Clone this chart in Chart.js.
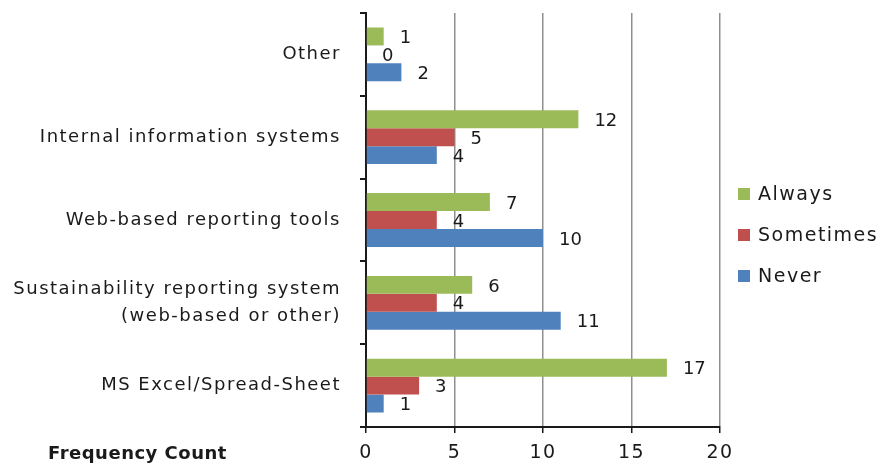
<!DOCTYPE html>
<html lang="en">
<head>
<meta charset="UTF-8">
<title>Frequency Count</title>
<script src="https://cdn.jsdelivr.net/npm/chart.js@4.4.0/dist/chart.umd.min.js"></script>
<style>
  html, body { margin: 0; padding: 0; background: #fff; }
</style>
</head>
<body>
<canvas id="chart" width="881" height="464"></canvas>
<script>
// data
const categories = ['Other', 'Internal information systems', 'Web-based reporting tools',
  ['Sustainability reporting system', '(web-based or other)'], 'MS Excel/Spread-Sheet'];
const seriesNames = ['Always', 'Sometimes', 'Never'];
const always = [1, 12, 7, 6, 17];
const sometimes = [0, 5, 4, 4, 3];
const never = [2, 4, 10, 11, 1];
const xMax = 20;
const xStep = 5;
const axisTitle = 'Frequency Count';

const colors = ['#9bbb59', '#c0504d', '#4f81bd'];
const ink = '#1a1a1a';

// wide letter spacing like the original picture
const spacing = {
  id: 'spacing',
  beforeDraw(chart) { chart.ctx.letterSpacing = '1.5px'; },
  afterDraw(chart) { chart.ctx.letterSpacing = '0px'; }
};

// value labels to the right of each bar
const valueLabels = {
  id: 'valueLabels',
  afterDatasetsDraw(chart) {
    const ctx = chart.ctx;
    ctx.save();
    ctx.letterSpacing = '0px';
    ctx.font = '18px "DejaVu Sans"';
    ctx.fillStyle = ink;
    ctx.textAlign = 'left';
    ctx.textBaseline = 'middle';
    chart.data.datasets.forEach((ds, i) => {
      chart.getDatasetMeta(i).data.forEach((bar, j) => {
        ctx.fillText(String(ds.data[j]), bar.x + 16, bar.y + 2);
      });
    });
    ctx.restore();
  }
};

// legend on the right + the bottom-left title
const extras = {
  id: 'extras',
  afterDraw(chart) {
    const ctx = chart.ctx;
    const area = chart.chartArea;
    ctx.save();
    ctx.textBaseline = 'middle';
    ctx.textAlign = 'left';
    ctx.letterSpacing = '1.5px';
    ctx.font = '19px "DejaVu Sans"';
    const mid = (area.top + area.bottom) / 2 + 15;
    chart.data.datasets.forEach((ds, i) => {
      const y = mid + (i - 1) * 41;
      ctx.fillStyle = ds.backgroundColor;
      ctx.fillRect(area.right + 18, y - 6, 12, 12);
      ctx.fillStyle = ink;
      ctx.fillText(ds.label, area.right + 38, y + 1);
    });
    ctx.letterSpacing = '0.5px';
    ctx.font = 'bold 18px "DejaVu Sans"';
    ctx.fillText(axisTitle, 48, chart.scales.x.bottom - 10);
    ctx.restore();
  }
};

const ctx = document.getElementById('chart').getContext('2d');
new Chart(ctx, {
  type: 'bar',
  data: {
    labels: categories,
    datasets: [always, sometimes, never].map((d, i) => ({
      label: seriesNames[i],
      data: d,
      backgroundColor: colors[i],
      borderWidth: 0,
      categoryPercentage: 0.65,
      barPercentage: 1
    }))
  },
  options: {
    indexAxis: 'y',
    responsive: false,
    animation: false,
    layout: { padding: { top: 13, right: 161, bottom: 0, left: 0 } },
    plugins: {
      legend: { display: false },
      tooltip: { enabled: false }
    },
    scales: {
      x: {
        min: 0,
        max: xMax,
        afterFit(scale) {
          scale.height = 37;
          scale.paddingLeft = 0;
          scale.paddingRight = 0;
        },
        ticks: {
          stepSize: xStep,
          padding: 9,
          color: ink,
          font: { family: 'DejaVu Sans', size: 19 }
        },
        grid: { color: '#8f8f8f', lineWidth: 1.5, tickColor: ink, tickLength: 6 },
        border: { color: ink, width: 2 }
      },
      y: {
        afterFit(scale) {
          scale.width = 366;
          scale.paddingTop = 0;
          scale.paddingBottom = 0;
        },
        ticks: {
          padding: 19,
          color: ink,
          font: { family: 'DejaVu Sans', size: 18, lineHeight: 1.55 }
        },
        grid: { drawOnChartArea: false, tickColor: ink, tickLength: 6, lineWidth: 2 },
        border: { color: ink, width: 2 }
      }
    }
  },
  plugins: [spacing, valueLabels, extras]
});
</script>
</body>
</html>
